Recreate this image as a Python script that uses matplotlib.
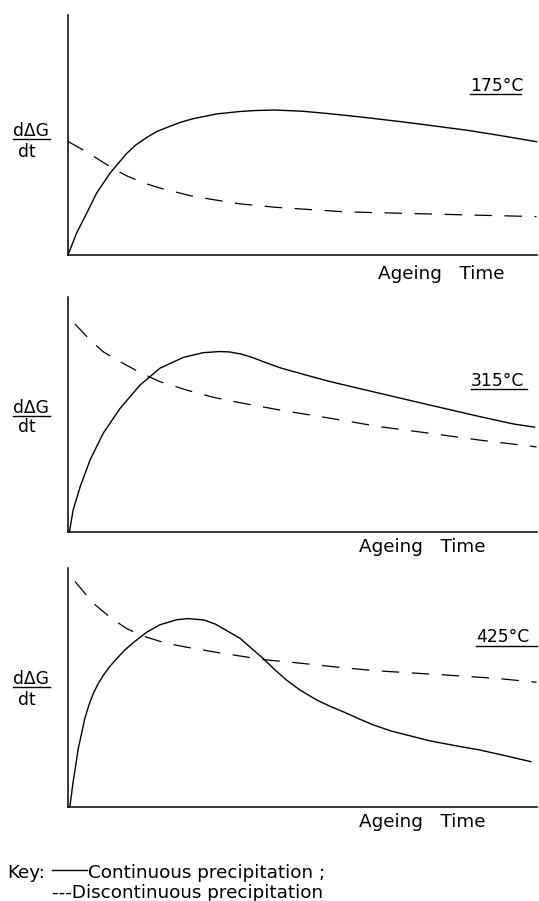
import matplotlib
matplotlib.use("Agg")
import matplotlib.pyplot as plt
from matplotlib.lines import Line2D

W, H = 539, 901

# ageing time (arbitrary units, 0-100) and rate d(dG)/dt (0-100 of axis height)
t_cont_175 = [0, 1.85, 4.0, 6.1, 9.0, 12.5, 14.5, 16.8, 19.0, 21.7, 24.0, 26.7, 31.8, 36.7, 40.0, 44.1,
              50.0, 55.1, 62.0, 70.8, 78.0, 85.0, 92.1, 99.9]
r_cont_175 = [0, 9.2, 17.5, 25.8, 34.2, 42.3, 45.9, 49.0, 51.5, 53.6, 55.3, 56.8, 58.8, 59.8, 60.2, 60.4,
              59.9, 59.0, 57.6, 55.6, 53.8, 52.0, 49.8, 47.2]
t_disc_175 = [0, 4.0, 7.5, 10.0, 12.5, 16.0, 19.6, 26.7, 36.7, 44.1, 58.8, 70.8, 85.0, 99.9]
r_disc_175 = [47.3, 42.9, 38.6, 35.6, 33.0, 30.1, 27.9, 24.4, 21.3, 19.9, 18.0, 17.4, 16.7, 16.0]

t_cont_315 = [0.3, 1.1, 2.6, 4.7, 7.5, 11.1, 15.4, 19.6, 24.6, 28.8, 32.4, 34.5, 36.7, 39.0, 42.0, 45.2,
              50.0, 55.9, 66.5, 77.2, 87.8, 94.9, 99.5]
r_cont_315 = [0, 9.4, 19.3, 30.6, 42.0, 52.6, 62.6, 69.7, 74.3, 76.3, 76.8, 76.6, 75.8, 74.5, 72.2, 69.9,
              67.2, 64.0, 59.0, 54.0, 49.1, 46.0, 44.6]
t_disc_315 = [1.5, 4.7, 7.5, 11.1, 15.4, 19.6, 25.3, 31.0, 36.7, 45.2, 55.9, 66.5, 77.2, 87.8, 99.9]
r_disc_315 = [88.5, 81.7, 76.7, 72.5, 67.8, 64.0, 60.4, 57.3, 55.0, 51.9, 48.4, 44.8, 42.0, 39.1, 36.2]

t_cont_425 = [0.4, 1.1, 2.2, 3.6, 4.5, 5.4, 6.4, 7.5, 8.9, 10.4, 12.0, 13.9, 16.8, 19.6, 23.2, 25.5,
              29.0, 31.5, 33.8, 36.7, 39.0, 41.6, 44.0, 46.6, 49.5, 53.0, 56.0, 58.7, 62.0, 65.1,
              69.0, 73.6, 77.0, 80.7, 84.0, 87.8, 93.0, 98.7]
r_cont_425 = [0, 10.4, 24.4, 37.0, 42.8, 47.4, 51.4, 54.9, 58.7, 62.0, 65.4, 68.7, 73.1, 76.2, 78.3, 78.8,
              78.2, 76.4, 73.8, 70.5, 66.5, 62.1, 57.5, 53.0, 48.8, 44.7, 41.9, 39.7, 36.8, 34.2,
              31.6, 29.3, 27.6, 26.2, 25.0, 23.7, 21.4, 18.8]
t_disc_425 = [1.5, 5.4, 9.0, 12.5, 16.1, 21.0, 26.7, 32.4, 36.7, 41.6, 49.5, 56.6, 65.1, 80.7, 91.4, 99.9]
r_disc_425 = [94.3, 85.2, 79.3, 74.6, 71.4, 68.4, 66.3, 64.4, 63.1, 61.6, 60.1, 58.6, 57.0, 55.1, 53.7, 52.1]

temps = ["175°C", "315°C", "425°C"]

plt.rcParams["font.family"] = ["DejaVu Sans"]
fs = 12.3

fig = plt.figure(figsize=(W / 100, H / 100), dpi=100)


def fx(x):
    return x / W


def fy(y):
    return 1 - y / H


def txt(x, y, s, size=fs, **kw):
    fig.text(fx(x), fy(y), s, fontsize=size, va="baseline", ha="left", **kw)


def hline(x0, x1, y, lw=1.0):
    fig.add_artist(Line2D([fx(x0), fx(x1)], [fy(y), fy(y)], color="black", lw=lw))


# panel boxes in pixels: top, bottom of the y axis
panels = [
    (15, 255, t_cont_175, r_cont_175, t_disc_175, r_disc_175),
    (297, 532, t_cont_315, r_cont_315, t_disc_315, r_disc_315),
    (568, 806.5, t_cont_425, r_cont_425, t_disc_425, r_disc_425),
]
x_left, x_right = 68, 537

for top, bot, tc, rc, td, rd in panels:
    ax = fig.add_axes([fx(x_left), fy(bot), (x_right - x_left) / W, (bot - top) / H])
    ax.plot(tc, rc, color="black", lw=1.0, clip_on=False, solid_joinstyle="round")
    ax.plot(td, rd, color="black", lw=0.9, dashes=(14, 10), clip_on=False)
    ax.set_xlim(0, 100)
    ax.set_ylim(0, 100)
    ax.set_xticks([])
    ax.set_yticks([])
    for s in ["top", "right"]:
        ax.spines[s].set_visible(False)
    for s in ["left", "bottom"]:
        ax.spines[s].set_linewidth(1.1)
    ax.patch.set_alpha(0)

# y labels d(dG)/dt as a fraction
for base_top, bar, base_bot in [(136, 138.5, 157), (413, 416, 432), (684, 686.5, 705)]:
    txt(13, base_top, "dΔG")
    hline(13, 50, bar, lw=1.0)
    txt(18, base_bot, "dt")

# x labels
for x, y in [(378, 279), (359, 552), (359, 827)]:
    txt(x, y, "Ageing   Time", size=13.2)

# temperatures, underlined
for s, x0, x1, y, ul in [(temps[0], 470, 521, 91, 94), (temps[1], 471, 527, 386, 389), (temps[2], 476, 537, 642, 646)]:
    txt(x0, y, s)
    hline(x0, x1, ul, lw=1.0)

# key
txt(7, 878, "Key:", size=13.2)
hline(52, 87, 870, lw=1.0)
txt(88, 878, "Continuous precipitation ;", size=13.2)
txt(52, 898, "---Discontinuous precipitation", size=13.2)

fig.savefig("out.png", dpi=100)
